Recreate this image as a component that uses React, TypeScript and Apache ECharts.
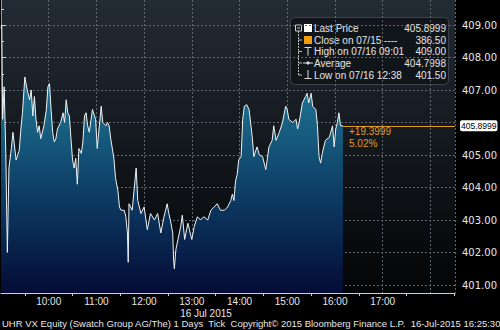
import React, { useEffect, useRef } from 'react';
import * as echarts from 'echarts';

const TIMES = [
  '09:00','09:01','09:02','09:04','09:06','09:08','09:10','09:13','09:15','09:19','09:23','09:25','09:27','09:30','09:33','09:36','09:38','09:40','09:42','09:44','09:46','09:48','09:50','09:54','09:57','09:59',
  '10:01','10:03','10:05','10:07','10:09','10:11','10:15','10:18','10:20','10:22','10:24','10:26','10:28','10:30','10:32','10:34','10:36','10:38','10:41','10:43','10:45','10:47','10:49','10:51','10:55','10:59',
  '11:01','11:06','11:08','11:12','11:14','11:16','11:18','11:22','11:24','11:27','11:29','11:31','11:35','11:37','11:39','11:40','11:41','11:45','11:50','11:52','11:56',
  '12:00','12:04','12:08','12:13','12:17','12:21','12:25','12:29','12:31','12:33','12:36','12:37','12:38','12:40','12:46','12:48','12:51','12:55','12:57',
  '13:00','13:03','13:07','13:11','13:15','13:20','13:24','13:28','13:32','13:36','13:41','13:45','13:49','13:51','13:53','13:55','13:57','13:59',
  '14:02','14:04','14:06','14:09','14:12','14:16','14:18','14:22','14:25','14:29','14:33','14:37','14:41','14:43','14:46','14:50','14:54','14:58',
  '15:00','15:02','15:07','15:11','15:13','15:15','15:19','15:23','15:25','15:27','15:30','15:32','15:36','15:38','15:40','15:42','15:44','15:48','15:53','15:57','15:59',
  '16:01','16:03','16:05','16:07','16:10'
];
const PRICES = [
  408.9,409.0,406.1,407.1,405.1,402.0,404.6,405.2,405.7,404.85,405.15,405.8,406.3,407.4,407.0,406.7,407.0,406.2,406.8,406.1,405.7,405.9,405.5,405.9,406.4,407.1,
  407.2,406.4,405.7,405.4,405.5,405.8,406.0,406.3,406.0,406.7,406.3,406.2,405.5,404.85,404.6,404.9,404.1,405.2,405.05,405.4,406.2,406.3,405.9,405.7,406.4,406.1,
  405.2,406.5,406.0,405.9,406.0,405.9,405.5,404.9,404.3,403.9,403.4,403.3,403.3,403.1,402.6,401.7,403.5,403.3,404.6,403.6,403.2,
  403.4,402.7,403.2,403.0,403.2,402.6,403.1,403.5,403.2,403.0,402.6,401.8,401.5,402.1,402.8,403.15,402.4,402.9,402.7,
  402.4,402.8,403.1,403.0,403.1,403.0,403.3,403.4,403.5,403.3,403.3,403.4,403.6,403.8,403.6,404.2,404.4,404.85,
  404.95,406.1,406.5,406.55,406.4,405.55,404.95,405.25,405.0,404.95,404.55,405.25,405.45,405.9,405.45,405.7,406.0,406.5,
  406.4,406.1,406.0,406.1,405.8,406.0,406.6,406.8,406.9,406.6,406.9,406.5,406.4,405.9,404.95,404.75,405.05,405.45,405.55,405.9,405.25,
  405.8,406.0,406.3,405.9,405.8999
];
const HOUR_LABELS = ['10:00','11:00','12:00','13:00','14:00','15:00','16:00','17:00'];
const Y_TICKS = [401, 402, 403, 404, 405, 406, 407, 408, 409];
const LEGEND_NAMES = ['Last Price', 'Close on 07/15 ----', 'High on 07/16 09:01', 'Average', 'Low on 07/16 12:38'];
const LEGEND_VALUES = ['405.8999', '386.50', '409.00', '404.7998', '401.50'];
const LAST_PRICE_LABEL = '405.8999';
const CHANGE_ABS = '+19.3999';
const CHANGE_PCT = '5.02%';
const DATE_LABEL = '16 Jul 2015';
const FOOTER = 'UHR VX Equity (Swatch Group AG/The) 1 Days  Tick  Copyright\u00A9 2015 Bloomberg Finance L.P.  16-Jul-2015 16:25:30';

const FONT = '"Liberation Sans", Arial, sans-serif';
const YFONT = '"DejaVu Sans", Verdana, sans-serif';
const TXT = '#e6e6e6';
const ORANGE = '#e39a22';

const toMin = (t: string) => {
  const [h, m] = t.split(':').map(Number);
  return (h - 9) * 60 + m;
};

export default function App() {
  const ref = useRef<HTMLDivElement>(null);
  useEffect(() => {
    if (!ref.current) return;
    const chart = echarts.init(ref.current, null, { renderer: 'svg' });
    const data = TIMES.map((t, i) => [toMin(t), PRICES[i]]);
    const last = data[data.length - 1];
    const XMAX = 571;
    const hourVals = HOUR_LABELS.map(toMin);
    const halfVals: number[] = [];
    for (let v = 30; v < XMAX; v += 60) halfVals.push(v);
    const yHalf = Y_TICKS.map((v) => v + 0.5);
    // the last-price tag covers the tick label nearest to it
    const yLabelVals = Y_TICKS.filter((v) => Math.abs(v - last[1]) > 0.4);

    const rowY = [11, 23, 34.5, 46, 58];
    const legendChildren: any[] = [
      { type: 'rect', shape: { x: 0.5, y: 0.5, width: 158, height: 67, r: 4 }, style: { fill: 'rgba(16,20,25,0.94)', stroke: '#3d434a', lineWidth: 1 } },
      { type: 'rect', shape: { x: 5.5, y: 8, width: 6, height: 6 }, style: { fill: 'none', stroke: '#cfcfcf', lineWidth: 1 } },
      { type: 'line', shape: { x1: 7, y1: 11, x2: 10, y2: 11 }, style: { stroke: '#cfcfcf', lineWidth: 1 } },
      { type: 'line', shape: { x1: 8.5, y1: 14, x2: 8.5, y2: 58 }, style: { stroke: '#bdbdbd', lineWidth: 1, lineDash: [2, 1] } },
      { type: 'rect', shape: { x: 14, y: 7, width: 8, height: 8 }, style: { fill: '#ffffff' } },
      { type: 'rect', shape: { x: 14, y: 19, width: 8, height: 8 }, style: { fill: '#f29b0c' } },
      { type: 'line', shape: { x1: 14.5, y1: 30.5, x2: 21.5, y2: 30.5 }, style: { stroke: '#dddddd', lineWidth: 1 } },
      { type: 'line', shape: { x1: 18, y1: 30.5, x2: 18, y2: 38.5 }, style: { stroke: '#dddddd', lineWidth: 1 } },
      { type: 'line', shape: { x1: 13, y1: 46, x2: 23, y2: 46 }, style: { stroke: '#dddddd', lineWidth: 1 } },
      { type: 'circle', shape: { cx: 18, cy: 46, r: 1.6 }, style: { fill: '#dddddd' } },
      { type: 'line', shape: { x1: 18, y1: 53, x2: 18, y2: 61 }, style: { stroke: '#dddddd', lineWidth: 1 } },
      { type: 'line', shape: { x1: 14.5, y1: 61.5, x2: 21.5, y2: 61.5 }, style: { stroke: '#dddddd', lineWidth: 1 } },
    ];
    rowY.slice(1).forEach((y) => {
      legendChildren.push({ type: 'line', shape: { x1: 8.5, y1: y, x2: 12, y2: y }, style: { stroke: '#bdbdbd', lineWidth: 1 } });
    });
    LEGEND_NAMES.forEach((n, i) => {
      legendChildren.push({ type: 'text', x: 24, y: rowY[i], style: { text: n, fill: TXT, font: `10px ${FONT}`, textVerticalAlign: 'middle' } });
      legendChildren.push({ type: 'text', x: 156, y: rowY[i], style: { text: LEGEND_VALUES[i], fill: TXT, font: `10px ${FONT}`, textAlign: 'right', textVerticalAlign: 'middle' } });
    });

    chart.setOption({
      animation: false,
      backgroundColor: '#000000',
      grid: {
        left: 1, right: 44, top: 0, bottom: 37, containLabel: false, show: true, borderWidth: 0,
        backgroundColor: new echarts.graphic.LinearGradient(0, 0, 0, 1, [
          { offset: 0, color: '#232b34' },
          { offset: 0.5, color: '#13181d' },
          { offset: 1, color: '#030405' },
        ]),
      },
      xAxis: [
        {
          type: 'value', min: 0, max: XMAX, interval: 60,
          axisLine: { show: true, lineStyle: { color: '#d0d0d0', width: 1 } },
          axisTick: { show: false },
          axisLabel: { customValues: hourVals, formatter: (v: number) => HOUR_LABELS[hourVals.indexOf(v)] ?? '', color: TXT, fontSize: 10, fontFamily: FONT, margin: 3 },
          splitLine: { show: true, lineStyle: { color: '#5d6872', type: [2, 2], width: 1 } },
        },
        {
          type: 'value', min: 0, max: XMAX, position: 'bottom',
          axisLine: { show: false },
          axisTick: { show: true, customValues: halfVals, length: 3, lineStyle: { color: '#d0d0d0' } },
          axisLabel: { show: false },
          splitLine: { show: false },
        },
      ],
      yAxis: [
        {
          type: 'value', position: 'right', min: 400.754, max: 409.77,
          axisLine: { show: true, lineStyle: { color: '#9a9a9a', width: 1 } },
          axisTick: { show: true, customValues: Y_TICKS, length: 5, lineStyle: { color: '#d0d0d0' } },
          axisLabel: { customValues: yLabelVals, formatter: (v: number) => v.toFixed(2), color: TXT, fontSize: 10, fontFamily: YFONT, margin: 7 },
          splitLine: { show: true, lineStyle: { color: '#5d6872', type: [2, 2], width: 1 } },
        },
        {
          type: 'value', position: 'right', min: 400.754, max: 409.77,
          axisLine: { show: false },
          axisTick: { show: true, customValues: yHalf, length: 3, lineStyle: { color: '#d0d0d0' } },
          axisLabel: { show: false },
          splitLine: { show: false },
        },
      ],
      series: [
        {
          type: 'line',
          data,
          xAxisIndex: 0,
          yAxisIndex: 0,
          showSymbol: false,
          symbol: 'none',
          lineStyle: { color: '#eef2f4', width: 1 },
          areaStyle: {
            origin: 'start',
            opacity: 1,
            color: new echarts.graphic.LinearGradient(0, 0, 0, 1, [
              { offset: 0, color: '#2d8fb3' },
              { offset: 0.3, color: '#1c6a8b' },
              { offset: 0.65, color: '#0c3a62' },
              { offset: 1, color: '#040b36' },
            ]),
          },
          markLine: {
            silent: true,
            symbol: ['none', 'none'],
            lineStyle: { color: ORANGE, width: 1, type: 'solid' },
            label: {
              show: true, position: 'end', formatter: LAST_PRICE_LABEL, color: '#000', backgroundColor: '#ffffff',
              fontSize: 8.5, fontFamily: FONT, padding: [1, 1, 1, 1], borderRadius: 2, distance: 5,
            },
            data: [[{ coord: [last[0], last[1]] }, { coord: [XMAX, last[1]] }]],
          },
        },
      ],
      graphic: [
        { type: 'group', x: 290, y: 17, children: legendChildren },
        { type: 'text', x: 349, y: 131, style: { text: CHANGE_ABS, fill: ORANGE, font: `10px ${FONT}`, textVerticalAlign: 'middle' } },
        { type: 'text', x: 349, y: 143, style: { text: CHANGE_PCT, fill: ORANGE, font: `10px ${FONT}`, textVerticalAlign: 'middle' } },
        { type: 'text', x: 206, y: 313, style: { text: DATE_LABEL, fill: TXT, font: `10px ${FONT}`, textAlign: 'center', textVerticalAlign: 'middle' } },
        { type: 'text', x: 2, y: 323, style: { text: FOOTER, fill: TXT, font: `9.5px ${FONT}`, textVerticalAlign: 'middle' } },
      ],
    });
    return () => chart.dispose();
  }, []);
  return (
    <div style={{ position: 'fixed', left: 0, top: 0, width: 500, height: 330, background: '#000' }}>
      <div ref={ref} style={{ width: 500, height: 330 }} />
    </div>
  );
}
